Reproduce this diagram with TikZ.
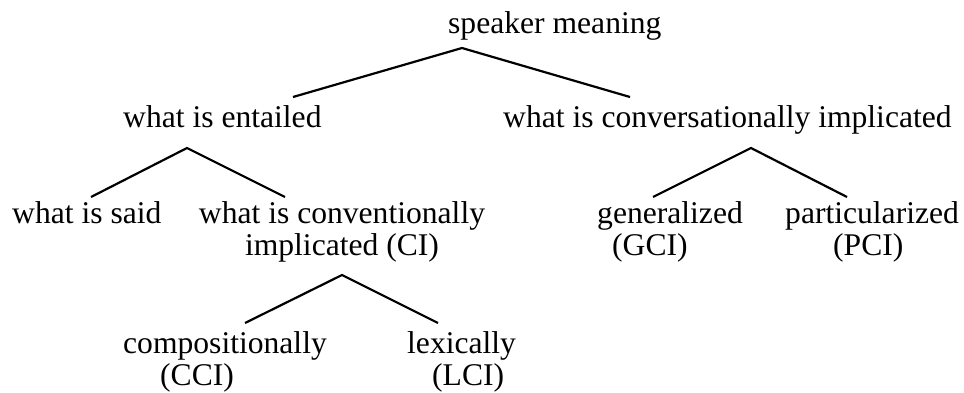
\documentclass[tikz,border=0pt]{standalone}
\usepackage{fontspec}
\setmainfont{Liberation Serif}
\newcommand\twoline[3]{\begin{tabular}[t]{@{}l@{}}#1\\\hspace*{#3}#2\end{tabular}}
\tikzset{
  lbl/.style={anchor=base west, inner sep=0pt, font=\fontsize{31.6pt}{32pt}\selectfont},
  branch/.style={line width=2.2pt, line join=miter}
}
\begin{document}
\begin{tikzpicture}[x=1pt,y=-1pt]
\useasboundingbox (0,0) rectangle (964,392);
% texts
\node[lbl] (sm) at (448,33) {speaker meaning};
\node[lbl] (we) at (123,127) {what is entailed};
\node[lbl] (wci) at (503,127) {what is conversationally implicated};
\node[lbl] (ws) at (12,223) {what is said};
\node[lbl, anchor=base] (ci) at (342,223) {\begin{tabular}[t]{@{}c@{}}what is conventionally\\implicated (CI)\end{tabular}};
\node[lbl] (gci) at (597,223) {\twoline{generalized}{(GCI)}{15pt}};
\node[lbl] (pci) at (785,223) {\twoline{particularized}{(PCI)}{48pt}};
\node[lbl] (cci) at (123,353) {\twoline{compositionally}{(CCI)}{37pt}};
\node[lbl] (lci) at (407,353) {\twoline{lexically}{(LCI)}{25pt}};
% branch points
\coordinate (smA) at (462,48);
\coordinate (weT) at (293,97);
\coordinate (wciT) at (630,97);
\coordinate (weA) at (187,148);
\coordinate (wsT) at (91,197);
\coordinate (ciT) at (285,197);
\coordinate (wciA) at (751,148);
\coordinate (gciT) at (653,197);
\coordinate (pciT) at (847,197);
\coordinate (ciA) at (342,275);
\coordinate (cciT) at (245,323);
\coordinate (lciT) at (438,323);
% connectors
\draw[branch] (weT) -- (smA) -- (wciT);
\draw[branch] (wsT) -- (weA) -- (ciT);
\draw[branch] (gciT) -- (wciA) -- (pciT);
\draw[branch] (cciT) -- (ciA) -- (lciT);
\end{tikzpicture}
\end{document}
